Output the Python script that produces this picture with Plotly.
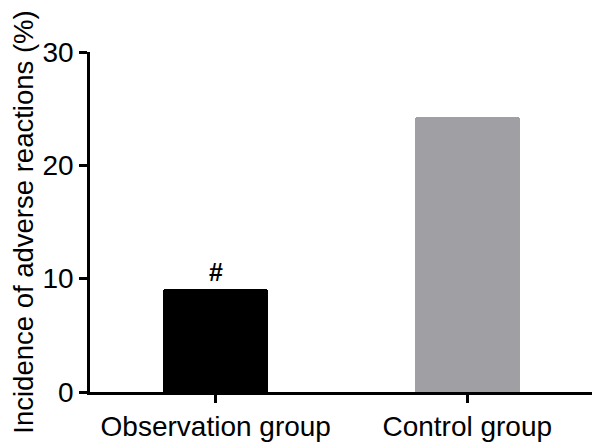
import plotly.graph_objects as go

categories = ["Observation group", "Control group"]
values = [9.09, 24.24]
colors = ["#000000", "#a09fa4"]
y_ticks = [0, 10, 20, 30]
marks = ["#", ""]

fig = go.Figure()
fig.add_trace(go.Bar(
    x=categories, y=values,
    marker=dict(color=colors, line=dict(width=0), cornerradius=3),
    width=0.417,
))

for c, v, m in zip(categories, values, marks):
    if m:
        fig.add_annotation(x=c, y=v, text="<b>" + m + "</b>", showarrow=False, yanchor="bottom", yshift=1,
                           font=dict(size=25, color="#000000"))

# page body has an 8px margin, so the figure is 8px smaller and margins are compensated
fig.update_layout(
    width=592, height=437,
    margin=dict(l=82, r=7, t=44, b=53),
    plot_bgcolor="white", paper_bgcolor="white",
    font=dict(family="Liberation Sans, Arial, sans-serif", size=28, color="#000000"),
    showlegend=False,
    bargap=0,
)
fig.update_xaxes(
    range=[-0.5, 1.5], showline=True, linecolor="black", linewidth=2.5,
    ticks="outside", ticklen=8, tickwidth=2.5, tickcolor="black",
    tickfont=dict(size=28), showgrid=False, zeroline=False, automargin=False,
)
fig.update_yaxes(
    range=[0, 30], tickvals=y_ticks, showline=True, linecolor="black", linewidth=2.5,
    ticks="outside", ticklen=8, tickwidth=2.5, tickcolor="black",
    tickfont=dict(size=28), showgrid=False, zeroline=False, automargin=False,
    title=dict(text="Incidence of adverse reactions (%)", font=dict(size=27.5), standoff=11),
)

fig.write_html("out.html")
